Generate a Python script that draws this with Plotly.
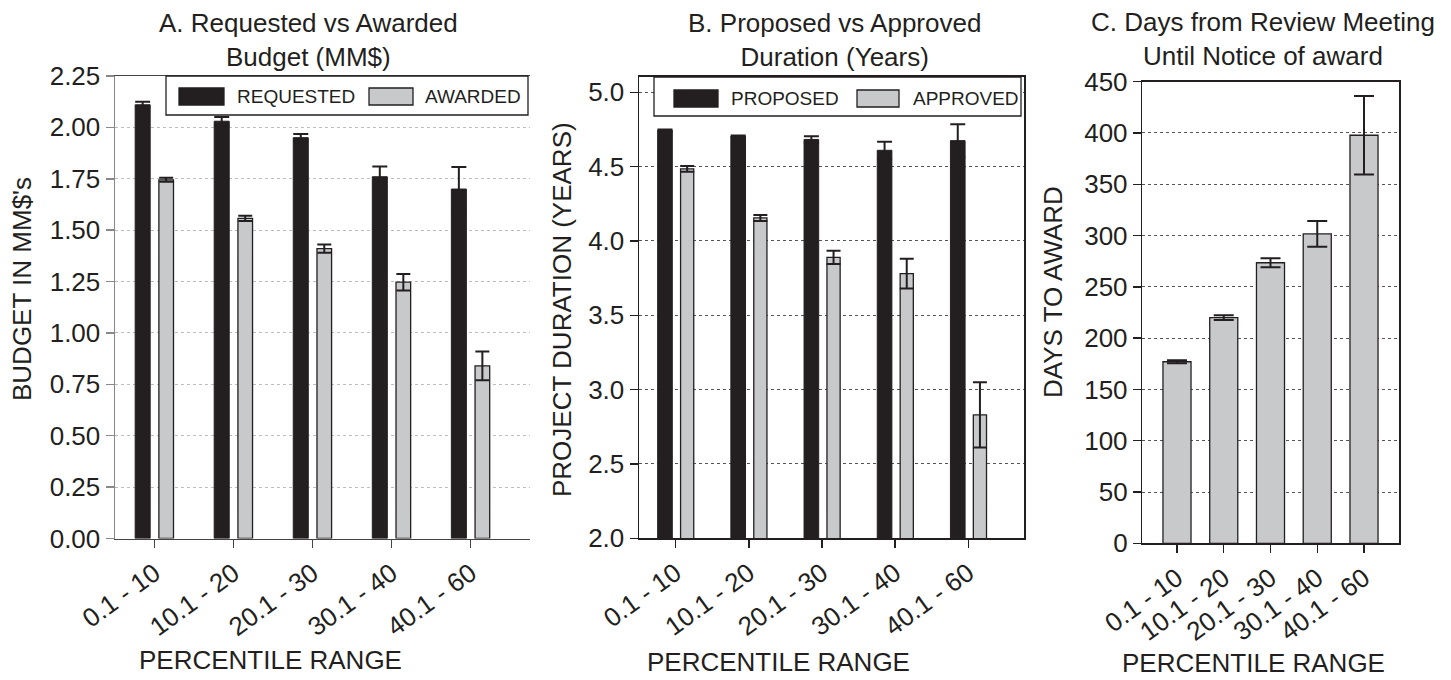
import plotly.graph_objects as go

# ---------------- data ----------------
categories = ["0.1 - 10", "10.1 - 20", "20.1 - 30", "30.1 - 40", "40.1 - 60"]

requested = [2.11, 2.03, 1.95, 1.76, 1.70]
requested_err = [0.015, 0.02, 0.018, 0.05, 0.107]
awarded = [1.745, 1.557, 1.41, 1.247, 0.84]
awarded_err = [0.01, 0.013, 0.02, 0.04, 0.07]

proposed = [4.745, 4.705, 4.683, 4.61, 4.675]
proposed_err = [0.004, 0.004, 0.022, 0.058, 0.11]
approved = [4.485, 4.155, 3.89, 3.78, 2.83]
approved_err = [0.02, 0.02, 0.045, 0.10, 0.22]

days = [177, 220, 273.5, 301.6, 397.8]
days_err = [1.5, 2.2, 4.3, 12.5, 38.2]

panel_titles = ["A. Requested vs Awarded<br>Budget (MM$)",
                "B. Proposed vs Approved<br>Duration (Years)",
                "C. Days from Review Meeting<br>Until Notice of award"]
y_titles = ["BUDGET IN MM$'s", "PROJECT DURATION (YEARS)", "DAYS TO AWARD"]
x_title = "PERCENTILE RANGE"

# ---------------- style ----------------
W, H = 1451, 680
FONT = "Liberation Sans, Arial, sans-serif"
INK = "#231f20"
GREY = "#c8c9cb"
FS = 26


def px(x):
    return x / W


def py(y):
    return 1 - y / H


fig = go.Figure()

# Panel A
fig.add_trace(go.Bar(x=categories, y=requested, xaxis="x", yaxis="y",
                     offset=-0.245, width=0.19,
                     marker=dict(color=INK, line=dict(color=INK, width=1)),
                     error_y=dict(type="data", array=requested_err, color=INK,
                                  thickness=2, width=7.5),
                     showlegend=False, name="REQUESTED"))
fig.add_trace(go.Bar(x=categories, y=awarded, xaxis="x", yaxis="y",
                     offset=0.055, width=0.185,
                     marker=dict(color=GREY, line=dict(color=INK, width=1.3)),
                     error_y=dict(type="data", array=awarded_err, color=INK,
                                  thickness=2, width=7),
                     showlegend=False, name="AWARDED"))
# Panel B
fig.add_trace(go.Bar(x=categories, y=proposed, xaxis="x2", yaxis="y2",
                     offset=-0.245, width=0.2,
                     marker=dict(color=INK, line=dict(color=INK, width=1)),
                     error_y=dict(type="data", array=proposed_err, color=INK,
                                  thickness=2, width=7.5),
                     showlegend=False, name="PROPOSED"))
fig.add_trace(go.Bar(x=categories, y=approved, xaxis="x2", yaxis="y2",
                     offset=0.068, width=0.18,
                     marker=dict(color=GREY, line=dict(color=INK, width=1.3)),
                     error_y=dict(type="data", array=approved_err, color=INK,
                                  thickness=2, width=7),
                     showlegend=False, name="APPROVED"))
# Panel C
fig.add_trace(go.Bar(x=categories, y=days, xaxis="x3", yaxis="y3",
                     offset=-0.3, width=0.6,
                     marker=dict(color=GREY, line=dict(color=INK, width=1.3)),
                     error_y=dict(type="data", array=days_err, color=INK,
                                  thickness=2, width=10),
                     showlegend=False, name="DAYS"))

tickfont = dict(family=FONT, size=FS, color=INK)


def xax(l, r, rng, linecolor, anchor):
    return dict(domain=[px(l), px(r)], type="category", range=rng, anchor=anchor,
                showline=True, linecolor=linecolor, linewidth=1.5, mirror=True,
                ticks="outside", ticklen=8, tickcolor=linecolor, tickwidth=1.5,
                tickangle=-36, tickfont=tickfont, showgrid=False, zeroline=False,
                automargin=False, fixedrange=True)


def yax(b, t, rng, dtick, fmt, linecolor, gridcolor, anchor, mirror):
    return dict(domain=[py(b), py(t)], range=rng, dtick=dtick, tick0=rng[0],
                tickformat=fmt, showline=True, linecolor=linecolor, linewidth=1.5,
                mirror=mirror, ticks="outside", ticklen=8, tickcolor=linecolor,
                tickwidth=1.5, tickfont=tickfont, showgrid=True,
                gridcolor=gridcolor, griddash="dot", gridwidth=1,
                zeroline=False, anchor=anchor, automargin=False, fixedrange=True)


fig.update_layout(
    template="none",
    width=W, height=H,
    margin=dict(l=0, r=0, t=0, b=0, pad=0),
    paper_bgcolor="white", plot_bgcolor="white",
    barmode="overlay",
    font=dict(family=FONT, size=FS, color=INK),
    showlegend=False,
    xaxis=xax(115, 530, [-0.5, 4.75], "#444", "y"),
    yaxis=yax(538.5, 76, [0, 2.25], 0.25, ".2f", "#888", "#bdbdbd", "x", False),
    xaxis2=xax(639, 1024, [-0.5, 4.76], INK, "y2"),
    yaxis2=yax(538.3, 76.7, [2, 5.105], 0.5, ".1f", INK, "#555", "x2", True),
    xaxis3=xax(1142.3, 1399.3, [-0.742, 4.755], INK, "y3"),
    yaxis3=yax(543.3, 81.7, [0, 450], 50, "d", INK, "#555", "x3", True),
)

annotations = []
# panel titles
for txt, cx, cy in zip(panel_titles, [308, 835, 1263], [40, 40, 39]):
    annotations.append(dict(text=txt, x=px(cx), y=py(cy), xref="paper", yref="paper",
                            xanchor="center", yanchor="middle", showarrow=False,
                            font=dict(family=FONT, size=FS, color=INK)))
# y titles
for txt, cx, cy in zip(y_titles, [22, 562, 1053], [289, 310, 292]):
    annotations.append(dict(text=txt, x=px(cx), y=py(cy), xref="paper", yref="paper",
                            xanchor="center", yanchor="middle", textangle=-90,
                            showarrow=False, font=dict(family=FONT, size=FS, color=INK)))
# x titles
for cx, cy in zip([270, 779, 1253], [660, 662, 663]):
    annotations.append(dict(text=x_title, x=px(cx), y=py(cy), xref="paper", yref="paper",
                            xanchor="center", yanchor="middle", showarrow=False,
                            font=dict(family=FONT, size=FS, color=INK)))

# legend boxes (decoration)
shapes = []
legends = [
    dict(box=(166, 76, 528, 115), items=[((179, 88, 224, 105), INK, "REQUESTED", 235),
                                          ((369, 88, 413, 105), GREY, "AWARDED", 423)]),
    dict(box=(654, 77, 1021, 116), items=[((674, 90, 718, 107), INK, "PROPOSED", 729),
                                           ((857, 90, 899, 107), GREY, "APPROVED", 911)]),
]
for lg in legends:
    x0, y0, x1, y1 = lg["box"]
    shapes.append(dict(type="rect", xref="paper", yref="paper",
                       x0=px(x0), x1=px(x1), y0=py(y1), y1=py(y0),
                       fillcolor="white", line=dict(color=INK, width=1.3), layer="above"))
    for (a0, b0, a1, b1), col, label, tx in lg["items"]:
        shapes.append(dict(type="rect", xref="paper", yref="paper",
                           x0=px(a0), x1=px(a1), y0=py(b1), y1=py(b0),
                           fillcolor=col, line=dict(color=INK, width=1.3), layer="above"))
        annotations.append(dict(text=label, x=px(tx), y=py((b0 + b1) / 2), xref="paper",
                                yref="paper", xanchor="left", yanchor="middle",
                                showarrow=False,
                                font=dict(family=FONT, size=19, color=INK)))

fig.update_layout(annotations=annotations, shapes=shapes)

fig.write_html("out.html",
               config={"displayModeBar": False, "staticPlot": True},
               post_script="document.body.style.margin='0';document.body.style.overflow='hidden';")
